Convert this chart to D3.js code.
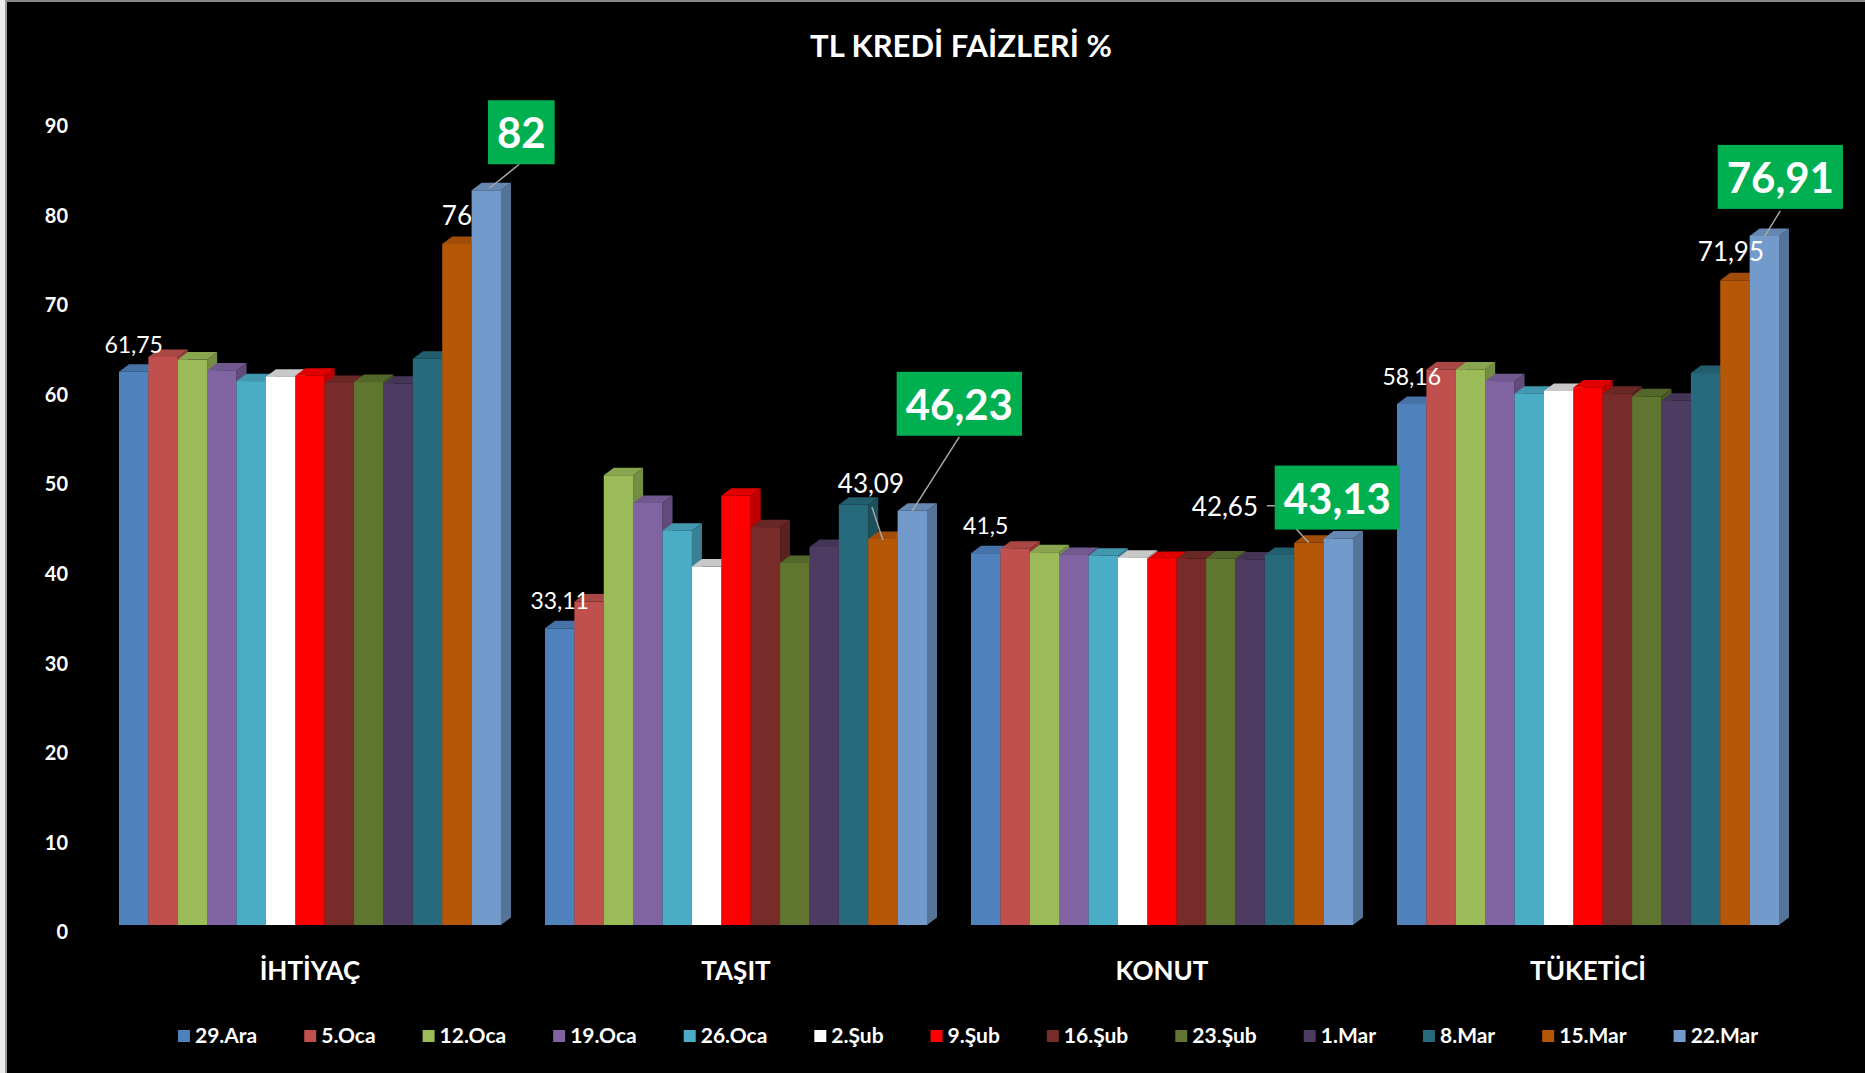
<!DOCTYPE html>
<html>
<head>
<meta charset="utf-8">
<script src="https://cdn.jsdelivr.net/npm/d3@7"></script>
<style>
  body { margin: 0; background: #000; }
  svg { display: block; font-family: Lato, "Open Sans", sans-serif; }
</style>
</head>
<body>
<div id="chart"></div>
<script>
// data
var categories = ["İHTİYAÇ", "TAŞIT", "KONUT", "TÜKETİCİ"]
var dates = ["29.Ara", "5.Oca", "12.Oca", "19.Oca", "26.Oca", "2.Şub", "9.Şub",
             "16.Şub", "23.Şub", "1.Mar", "8.Mar", "15.Mar", "22.Mar"]
var ihtiyac  = [61.75, 63.4, 63.1, 61.9, 60.7, 61.2, 61.3, 60.5, 60.6, 60.4, 63.2, 76, 82]
var tasit    = [33.11, 36.1, 50.2, 47.1, 44.0, 40.0, 47.9, 44.4, 40.4, 42.2, 46.9, 43.09, 46.23]
var konut    = [41.5, 42.0, 41.6, 41.3, 41.2, 41.0, 40.85, 40.9, 40.9, 40.8, 41.3, 42.65, 43.13]
var tuketici = [58.16, 62.0, 62.0, 60.7, 59.3, 59.6, 60.0, 59.3, 59.0, 58.5, 61.6, 71.95, 76.91]
var yTicks = [0, 10, 20, 30, 40, 50, 60, 70, 80, 90]
var colors = ["#4F81BD", "#C0504D", "#9BBB59", "#8064A2", "#4BACC6", "#FFFFFF", "#FF0000",
              "#772C2A", "#5F7530", "#4D3B62", "#276A7C", "#B65708", "#729ACA"]

var seriesByCat = [ihtiyac, tasit, konut, tuketici]

// which bars carry a label, and how it sits relative to the bar top
var labelSpec = [
  { c: 0, s: 0,  kind: "plain", dx: 0,   dy: -28 },
  { c: 1, s: 0,  kind: "plain", dx: 0,   dy: -28 },
  { c: 2, s: 0,  kind: "plain", dx: 0,   dy: -28 },
  { c: 3, s: 0,  kind: "plain", dx: 0,   dy: -28 },
  { c: 0, s: 11, kind: "mid",   dx: 0,   dy: -29 },
  { c: 1, s: 11, kind: "mid",   dx: -12, dy: -56, leader: [[-11, -32], [0, 1]] },
  { c: 2, s: 11, kind: "mid",   dx: -84, dy: -37, leader: [[-42, -37], [-34, -37], [0, 0]] },
  { c: 3, s: 11, kind: "mid",   dx: -4,  dy: -29 },
  { c: 0, s: 12, kind: "box",   dx: 35,  dy: -58, leader: [[33, -26], [3, -2]] },
  { c: 1, s: 12, kind: "box",   dx: 47,  dy: -107, leader: [[47, -74], [0, 0]] },
  { c: 2, s: 12, kind: "box",   dx: -1,  dy: -41 },
  { c: 3, s: 12, kind: "box",   dx: 16,  dy: -59, leader: [[16, -25], [0, 1]] }
]

var width = 1865, height = 1073
var depth = { x: 10, y: -7.5 }
var baseY = 925

var svg = d3.select("#chart").append("svg")
  .attr("width", width)
  .attr("height", height)

svg.append("rect").attr("width", width).attr("height", height).attr("fill", "#000")
// frame on the left/top edge
svg.append("rect").attr("x", 0).attr("y", 0).attr("width", 5).attr("height", height).attr("fill", "#ececec")
svg.append("line").attr("x1", 6).attr("x2", 6).attr("y1", 0).attr("y2", height)
  .attr("stroke", "#9a9a9a").attr("stroke-width", 2)
svg.append("line").attr("x1", 6).attr("x2", width).attr("y1", 1).attr("y2", 1)
  .attr("stroke", "#8a8a8a").attr("stroke-width", 2)

// scales
var xScale = d3.scaleBand()
  .domain(categories)
  .range([97, 1801])
  .paddingInner(0.1033)
  .paddingOuter(0.0516)

var xInner = d3.scaleBand()
  .domain(dates)
  .range([0, xScale.bandwidth()])

var yScale = d3.scaleLinear()
  .domain([0, 90])
  .range([baseY, baseY - 90 * 8.96])

var fmt = v => String(v).replace(".", ",")

// title
svg.append("text")
  .attr("x", 961)
  .attr("y", 45)
  .attr("text-anchor", "middle")
  .attr("dominant-baseline", "central")
  .attr("fill", "#fff")
  .style("font-weight", "bold")
  .style("font-size", "31px")
  .text("TL KREDİ FAİZLERİ %")

// y axis
var yAxis = svg.append("g")
  .attr("transform", "translate(68, 7.5)")
  .call(d3.axisLeft(yScale).tickValues(yTicks).tickSize(0).tickPadding(0))
yAxis.select(".domain").remove()
yAxis.selectAll("text")
  .attr("fill", "#fff")
  .style("font-family", "Lato, sans-serif")
  .style("font-weight", "bold")
  .style("font-size", "20px")

// category labels
var xAxis = svg.append("g")
  .attr("transform", "translate(0, 971)")
  .call(d3.axisBottom(xScale).tickSize(0).tickPadding(0))
xAxis.select(".domain").remove()
xAxis.selectAll("text")
  .attr("y", 0)
  .attr("dy", "0.36em")
  .attr("fill", "#fff")
  .style("font-family", "Lato, sans-serif")
  .style("font-weight", "bold")
  .style("font-size", "26px")

// 3d bars
var barData = []
categories.forEach((c, ci) => {
  dates.forEach((d, si) => {
    barData.push({ cat: c, ci: ci, date: d, si: si, value: seriesByCat[ci][si] })
  })
})

var bw = xInner.bandwidth()
var groups = svg.append("g").selectAll("g.bar")
  .data(barData)
  .join("g")
  .attr("class", "bar")

groups.each(function(d) {
  var g = d3.select(this)
  var x0 = xScale(d.cat) + xInner(d.date)
  var x1 = x0 + bw
  var yt = yScale(d.value)
  var base = d3.color(colors[d.si])
  var top = d.si === 5 ? "#c8c8c8" : base.darker(0.35)
  var side = d.si === 5 ? "#a0a0a0" : base.darker(0.8)

  g.append("path")
    .attr("d", `M${x1},${yt} L${x1 + depth.x},${yt + depth.y} L${x1 + depth.x},${baseY + depth.y} L${x1},${baseY} Z`)
    .attr("fill", side)
  g.append("path")
    .attr("d", `M${x0},${yt} L${x0 + depth.x},${yt + depth.y} L${x1 + depth.x},${yt + depth.y} L${x1},${yt} Z`)
    .attr("fill", top)
  g.append("rect")
    .attr("x", x0)
    .attr("y", yt)
    .attr("width", bw)
    .attr("height", baseY - yt)
    .attr("fill", colors[d.si])
})

// data labels
var anchor = l => ({
  x: xScale(categories[l.c]) + xInner(dates[l.s]) + bw / 2,
  y: yScale(seriesByCat[l.c][l.s])
})

var labels = svg.append("g")

labelSpec.filter(l => l.leader).forEach(l => {
  var a = anchor(l)
  labels.append("path")
    .attr("d", d3.line()(l.leader.map(p => [a.x + p[0], a.y + p[1]])))
    .attr("fill", "none")
    .attr("stroke", "#a6a6a6")
    .attr("stroke-width", 1.5)
})

labelSpec.forEach(l => {
  var a = anchor(l)
  var cx = a.x + l.dx, cy = a.y + l.dy
  var txt = fmt(seriesByCat[l.c][l.s])
  if (l.kind === "box") {
    var t = labels.append("text")
      .attr("x", cx).attr("y", cy)
      .attr("text-anchor", "middle")
      .attr("dominant-baseline", "central")
      .attr("fill", "#fff")
      .style("font-weight", "bold")
      .style("font-size", "42px")
      .text(txt)
    var w = t.node().getComputedTextLength() + 18
    labels.insert("rect", function() { return t.node() })
      .attr("x", cx - w / 2)
      .attr("y", cy - 32)
      .attr("width", w)
      .attr("height", 64)
      .attr("fill", "#00B050")
  } else {
    labels.append("text")
      .attr("x", cx).attr("y", cy)
      .attr("text-anchor", "middle")
      .attr("dominant-baseline", "central")
      .attr("fill", "#fff")
      .style("font-size", l.kind === "mid" ? "26px" : "23px")
      .text(txt)
  }
})

// legend
var legend = svg.append("g")
var legendY = 1036
var items = legend.selectAll("g")
  .data(dates)
  .join("g")
items.append("rect")
  .attr("width", 12).attr("height", 12)
  .attr("y", -6)
  .attr("fill", (d, i) => colors[i])
items.append("text")
  .attr("x", 17)
  .attr("dy", "0.35em")
  .attr("fill", "#fff")
  .style("font-weight", "bold")
  .style("font-size", "21px")
  .text(d => d)

var cursor = 0
items.each(function() {
  var w = 17 + d3.select(this).select("text").node().getComputedTextLength()
  d3.select(this).attr("transform", `translate(${cursor},0)`)
  cursor += w + 47
})
var legendW = cursor - 47
legend.attr("transform", `translate(${968 - legendW / 2},${legendY})`)
</script>
</body>
</html>
